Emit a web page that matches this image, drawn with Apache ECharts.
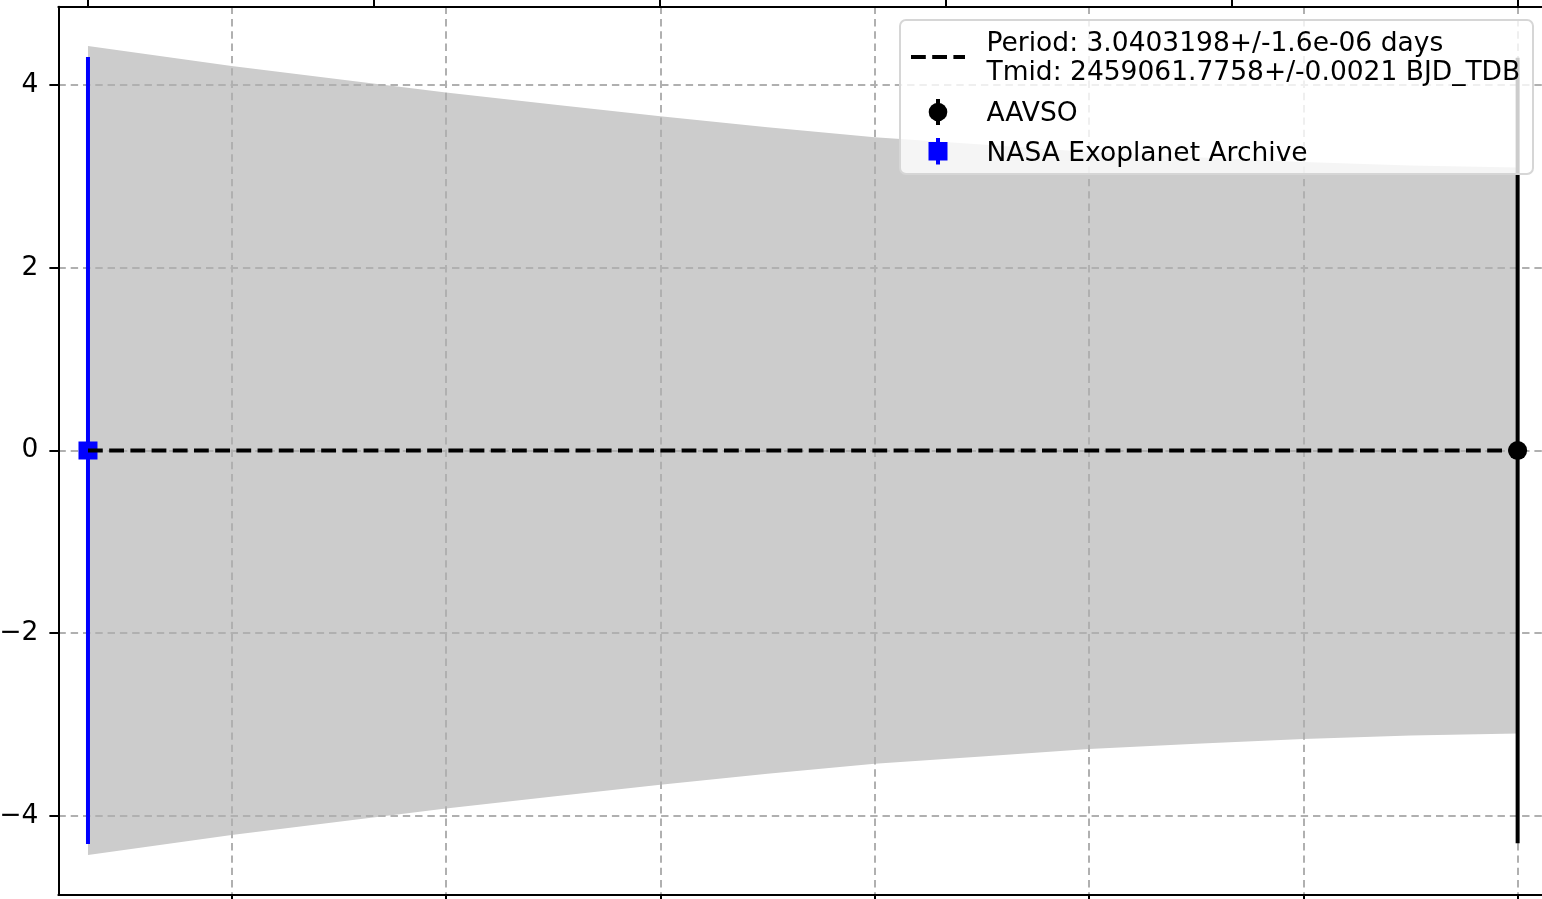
<!DOCTYPE html>
<html><head><meta charset="utf-8">
<script src="https://cdn.jsdelivr.net/npm/echarts@6/dist/echarts.min.js"></script>
<style>html,body{margin:0;padding:0;background:#fff}#chart{width:1542px;height:899px}</style>
</head><body><div id="chart"></div>
<script>
// ---- data ----
const nasaEpoch = [-1334];
const nasaOC = [0];
const nasaErr = [4.31];
const aavsoEpoch = [0];
const aavsoOC = [0];
const aavsoErr = [4.30];
const fitEpoch = [-1334, 0];
const fitOC = [0, 0];
const bandEpoch = [-1334, -1200, -1068, -1000, -900, -800, -700, -600, -500, -400, -300, -200, -100, 0];
const bandHalfWidth = [4.43, 4.21, 4.02, 3.92, 3.79, 3.66, 3.54, 3.43, 3.35, 3.27, 3.21, 3.16, 3.12, 3.10];
const yTicks = [-4, -2, 0, 2, 4];
const xTicks = [-1200, -1000, -800, -600, -400, -200, 0];
const topTicks = [-1334, -1067.2, -800.4, -533.6, -266.8, 0];
const fitLabel = ['Period: 3.0403198+/-1.6e-06 days', 'Tmid: 2459061.7758+/-0.0021 BJD_TDB'];
const seriesNames = ['AAVSO', 'NASA Exoplanet Archive'];

const FONT = 'DejaVu Sans';
const FS = 26.5;
const chart = echarts.init(document.getElementById('chart'), null, {renderer: 'canvas'});

function errorBarSeries(name, ep, oc, err, color) {
  return {
    type: 'custom', name: name, z: 3, silent: true,
    data: ep.map((e, i) => [e, oc[i] - err[i], oc[i] + err[i]]),
    encode: {x: 0, y: [1, 2]},
    renderItem: function (params, api) {
      const p1 = api.coord([api.value(0), api.value(1)]);
      const p2 = api.coord([api.value(0), api.value(2)]);
      return {type: 'line', shape: {x1: p1[0], y1: p1[1], x2: p2[0], y2: p2[1]},
              style: {stroke: color, lineWidth: 4, lineCap: 'butt'}};
    }
  };
}

const gridColor = '#b0b0b0';
const legendFont = FS + 'px "DejaVu Sans"';
const option = {
  animation: false,
  backgroundColor: '#ffffff',
  grid: {left: 58.4, right: -5, top: 6.7, bottom: 4.7, containLabel: false, outerBoundsMode: 'none'},
  xAxis: [{
    type: 'value', position: 'bottom', min: -1361.6, max: 27.4, z: 1.5,
    axisLine: {show: true, onZero: false, lineStyle: {color: '#000', width: 2}},
    axisTick: {show: true, length: 9, customValues: xTicks, lineStyle: {color: '#000', width: 2}},
    axisLabel: {show: false},
    splitLine: {show: true, lineStyle: {color: gridColor, width: 2, type: [7.4, 4.9]}}
  }, {
    type: 'value', position: 'top', min: -1361.6, max: 27.4, z: 1.5,
    axisLine: {show: true, onZero: false, lineStyle: {color: '#000', width: 2}},
    axisTick: {show: true, length: 9, customValues: topTicks, lineStyle: {color: '#000', width: 2}},
    axisLabel: {show: false},
    splitLine: {show: false}
  }],
  yAxis: {
    type: 'value', min: -4.86, max: 4.86, z: 1.5,
    axisLine: {show: true, onZero: false, lineStyle: {color: '#000', width: 2}},
    axisTick: {show: true, length: 9, customValues: yTicks, lineStyle: {color: '#000', width: 2}},
    axisLabel: {show: true, customValues: yTicks, margin: 20, color: '#000', fontFamily: FONT, fontSize: FS,
      formatter: v => (v < 0 ? '\u2212' + Math.abs(v) : String(v))},
    splitLine: {show: true, lineStyle: {color: gridColor, width: 2, type: [7.4, 4.9]}}
  },
  series: [
    {
      type: 'custom', name: 'band', z: 1, silent: true,
      data: bandEpoch.map((e, i) => [e, -bandHalfWidth[i], bandHalfWidth[i]]),
      encode: {x: 0, y: [1, 2]},
      renderItem: function (params, api) {
        if (params.dataIndex !== 0) return null;
        const pts = [];
        for (let i = 0; i < bandEpoch.length; i++) pts.push(api.coord([bandEpoch[i], bandHalfWidth[i]]));
        for (let i = bandEpoch.length - 1; i >= 0; i--) pts.push(api.coord([bandEpoch[i], -bandHalfWidth[i]]));
        return {type: 'polygon', shape: {points: pts}, style: {fill: '#cccccc'}};
      }
    },
    errorBarSeries('NASA Exoplanet Archive err', nasaEpoch, nasaOC, nasaErr, '#0000ff'),
    errorBarSeries('AAVSO err', aavsoEpoch, aavsoOC, aavsoErr, '#000000'),
    {
      type: 'scatter', name: seriesNames[1], z: 4, symbol: 'rect', symbolSize: [19, 18],
      itemStyle: {color: '#0000ff', opacity: 1},
      data: nasaEpoch.map((e, i) => [e, nasaOC[i]])
    },
    {
      type: 'scatter', name: seriesNames[0], z: 4, symbol: 'circle', symbolSize: 19,
      itemStyle: {color: '#000000', opacity: 1},
      data: aavsoEpoch.map((e, i) => [e, aavsoOC[i]])
    },
    {
      type: 'line', name: 'fit', z: 5, symbol: 'none', silent: true,
      lineStyle: {color: '#000', width: 4, type: [14.8, 6.4], cap: 'butt'},
      data: fitEpoch.map((e, i) => [e, fitOC[i]])
    }
  ],
  graphic: [
    {type: 'rect', z: 100, shape: {x: 900, y: 20, width: 633, height: 154, r: 6},
     style: {fill: 'rgba(255,255,255,0.8)', stroke: '#d6d6d6', lineWidth: 2}},
    {type: 'line', z: 101, shape: {x1: 911, y1: 57, x2: 965, y2: 57},
     style: {stroke: '#000', lineWidth: 4, lineDash: [14.8, 6.4]}},
    {type: 'line', z: 101, shape: {x1: 938, y1: 99, x2: 938, y2: 125}, style: {stroke: '#000', lineWidth: 4}},
    {type: 'circle', z: 101, shape: {cx: 938, cy: 112, r: 9.3}, style: {fill: '#000'}},
    {type: 'line', z: 101, shape: {x1: 938, y1: 138, x2: 938, y2: 164.5}, style: {stroke: '#0000ff', lineWidth: 4}},
    {type: 'rect', z: 101, shape: {x: 928.5, y: 142, width: 19, height: 18.5}, style: {fill: '#0000ff'}},
    {type: 'text', z: 102, x: 986.5, y: 44.5, style: {text: fitLabel[0], font: legendFont, fill: '#000', verticalAlign: 'middle'}},
    {type: 'text', z: 102, x: 986.5, y: 73.5, style: {text: fitLabel[1], font: legendFont, fill: '#000', verticalAlign: 'middle'}},
    {type: 'text', z: 102, x: 986.5, y: 114.5, style: {text: seriesNames[0], font: legendFont, fill: '#000', verticalAlign: 'middle'}},
    {type: 'text', z: 102, x: 986.5, y: 154, style: {text: seriesNames[1], font: legendFont, fill: '#000', verticalAlign: 'middle'}}
  ]
};
chart.setOption(option);
</script>
</body></html>
